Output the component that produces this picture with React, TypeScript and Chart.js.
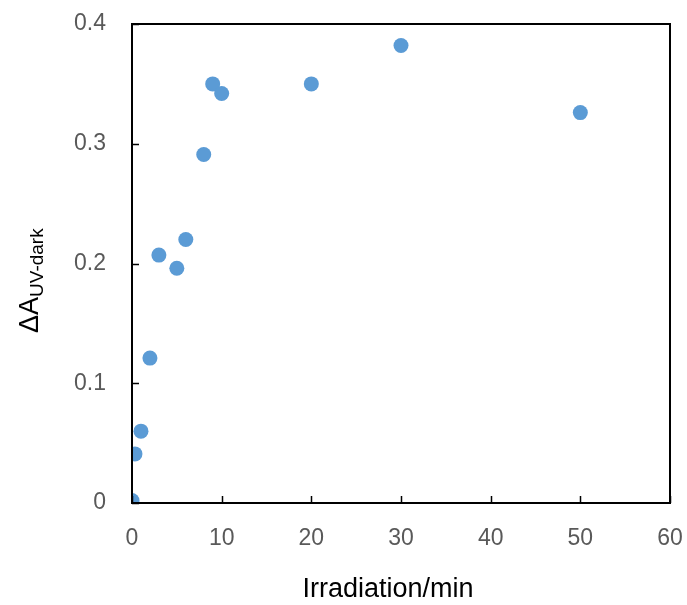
import React, { useEffect, useRef } from "react";
import { Chart, registerables } from "chart.js";

Chart.register(...registerables);

const irradiationMin = [0, 0.33, 1, 2, 3, 5, 6, 8, 9, 10, 20, 30, 50];
const deltaA = [0.002, 0.041, 0.06, 0.121, 0.207, 0.196, 0.22, 0.291, 0.35, 0.342, 0.35, 0.382, 0.326];
const xTicks = [0, 10, 20, 30, 40, 50, 60];
const yTicks = [0, 0.1, 0.2, 0.3, 0.4];
const xTitle = "Irradiation/min";
const yTitleMain = "ΔA";
const yTitleSub = "UV-dark";

const FONT = "'Liberation Sans', Arial, sans-serif";

const framePlugin = {
  id: "frame",
  afterDraw(chart: any) {
    const ctx = chart.ctx;
    const a = chart.chartArea;
    const xs = chart.scales.x;
    const ys = chart.scales.y;
    ctx.save();
    ctx.strokeStyle = "#000";
    ctx.lineWidth = 2;
    ctx.strokeRect(a.left, a.top, a.right - a.left, a.bottom - a.top);
    ctx.lineWidth = 1.5;
    ctx.beginPath();
    for (const v of xTicks) {
      const px = Math.round(xs.getPixelForValue(v)) + 0.5;
      ctx.moveTo(px, a.bottom);
      ctx.lineTo(px, a.bottom - 7);
    }
    for (const v of yTicks) {
      const py = Math.round(ys.getPixelForValue(v)) + 0.5;
      ctx.moveTo(a.left, py);
      ctx.lineTo(a.left + 7, py);
    }
    ctx.stroke();
    // x title
    ctx.fillStyle = "#000";
    ctx.font = `27px ${FONT}`;
    ctx.textAlign = "center";
    ctx.textBaseline = "alphabetic";
    ctx.fillText(xTitle, 388, 597);
    // y title
    ctx.translate(38, 333);
    ctx.rotate(-Math.PI / 2);
    ctx.textAlign = "left";
    ctx.font = `27px ${FONT}`;
    ctx.fillText(yTitleMain, 0, 0);
    const w = ctx.measureText(yTitleMain).width;
    ctx.font = `19px ${FONT}`;
    ctx.fillText(yTitleSub, w, 5);
    ctx.restore();
  },
};

export default function App() {
  const ref = useRef<HTMLCanvasElement>(null);
  useEffect(() => {
    document.body.style.margin = "0";
    const chart = new Chart(ref.current!, {
      type: "scatter",
      data: {
        datasets: [
          {
            data: irradiationMin.map((x, i) => ({ x, y: deltaA[i] })),
            backgroundColor: "#5B9BD5",
            borderColor: "#5B9BD5",
            pointRadius: 7.5,
            pointHoverRadius: 7.5,
            borderWidth: 0,
          },
        ],
      },
      options: {
        animation: false,
        responsive: false,
        maintainAspectRatio: false,
        layout: { autoPadding: false, padding: { left: 0, top: 24, right: 17, bottom: 0 } },
        plugins: { legend: { display: false }, tooltip: { enabled: false } },
        scales: {
          x: {
            type: "linear",
            min: 0,
            max: 60,
            afterFit: (s: any) => {
              s.height = 102;
              s.paddingLeft = 0;
              s.paddingRight = 0;
            },
            afterBuildTicks: (s: any) => {
              s.ticks = xTicks.map((v) => ({ value: v }));
            },
            grid: { display: false, drawTicks: false },
            border: { display: false },
            ticks: {
              color: "#595959",
              font: { family: FONT, size: 23 },
              padding: 22,
              callback: (v: any) => String(v),
            },
          },
          y: {
            type: "linear",
            min: 0,
            max: 0.4,
            afterFit: (s: any) => {
              s.width = 132;
              s.paddingTop = 0;
              s.paddingBottom = 0;
            },
            afterBuildTicks: (s: any) => {
              s.ticks = yTicks.map((v) => ({ value: v }));
            },
            grid: { display: false, drawTicks: false },
            border: { display: false },
            ticks: {
              color: "#595959",
              font: { family: FONT, size: 23 },
              padding: 26,
              callback: (v: any) => (v === 0 ? "0" : Number(v).toFixed(1)),
            },
          },
        },
      },
      plugins: [framePlugin],
    });
    return () => chart.destroy();
  }, []);
  return (
    <div style={{ position: "absolute", left: 0, top: 0, width: 687, height: 605, background: "#fff" }}>
      <canvas ref={ref} width={687} height={605} style={{ width: 687, height: 605 }} />
    </div>
  );
}
